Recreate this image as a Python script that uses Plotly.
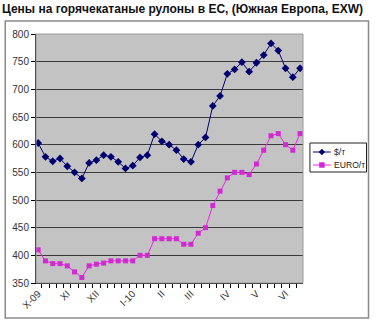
import plotly.graph_objects as go

# ---- data ----
weeks = list(range(1, 38))
usd_t = [603, 578, 570, 575, 561, 550, 539, 567, 572, 581,
         578, 569, 557, 562, 577, 581, 619, 606, 600, 590,
         574, 569, 600, 613, 670, 688, 728, 736, 749, 732,
         748, 762, 783, 770, 738, 722, 738]
eur_t = [410, 390, 385, 385, 381, 370, 360, 381, 384, 386,
         390, 390, 390, 390, 400, 400, 430, 430, 430, 430,
         420, 420, 440, 450, 490, 516, 540, 550, 550, 546,
         565, 590, 616, 620, 600, 590, 620]
month_pos = [1, 5, 9, 14, 18, 22, 27, 31, 35]
month_labels = ["X-09", "XI", "XII", "I-10", "II", "III", "IV", "V", "VI"]
series_names = ["$/т", "EURO/т"]
title_text = "Цены на горячекатаные рулоны в ЕС, (Южная Европа, EXW)"

W, H = 378, 324
L, R, T, B = 34, 303, 34, 283  # plot area in pixels


def px(xp):
    return (xp - L) / (R - L)


def py(yp):
    return (B - yp) / (B - T)


USD_COLOR = "#000070"
EUR_COLOR = "#ee22ee"

fig = go.Figure()
fig.add_trace(go.Scatter(x=weeks, y=usd_t, mode="lines+markers", name=series_names[0],
                         line=dict(color=USD_COLOR, width=1),
                         marker=dict(symbol="diamond", size=6, color=USD_COLOR),
                         showlegend=False))
fig.add_trace(go.Scatter(x=weeks, y=eur_t, mode="lines+markers", name=series_names[1],
                         line=dict(color=EUR_COLOR, width=1),
                         marker=dict(symbol="square", size=5, color="#d22ad2"),
                         showlegend=False))

shapes = []
# outer chart frame
shapes.append(dict(type="rect", xref="paper", yref="paper",
                   x0=px(3), x1=px(369), y0=py(318), y1=py(21),
                   line=dict(color="#8a8a8a", width=1.5), layer="below"))
# plot area border (top/right grey)
shapes.append(dict(type="rect", xref="paper", yref="paper",
                   x0=0, x1=1, y0=0, y1=1,
                   line=dict(color="#9a9a9a", width=1), layer="above"))
# legend box
shapes.append(dict(type="rect", xref="paper", yref="paper",
                   x0=px(310), x1=px(367), y0=py(172), y1=py(143),
                   line=dict(color="#222222", width=1), fillcolor="white"))
# legend samples
for yy, col in [(152, USD_COLOR), (165, EUR_COLOR)]:
    shapes.append(dict(type="line", xref="paper", yref="paper",
                       x0=px(313), x1=px(331), y0=py(yy), y1=py(yy),
                       line=dict(color=col, width=1)))
cx, cy, r = 322, 152, 3
shapes.append(dict(type="path", xref="paper", yref="paper",
                   path=f"M{px(cx-r)},{py(cy)} L{px(cx)},{py(cy-r)} L{px(cx+r)},{py(cy)} L{px(cx)},{py(cy+r)} Z",
                   fillcolor=USD_COLOR, line=dict(color=USD_COLOR, width=0.5)))
shapes.append(dict(type="rect", xref="paper", yref="paper",
                   x0=px(319.5), x1=px(324.5), y0=py(167.5), y1=py(162.5),
                   fillcolor="#d22ad2", line=dict(color="#d22ad2", width=0.5)))

annotations = [
    dict(xref="paper", yref="paper", x=px(332), y=py(152), text=series_names[0],
         showarrow=False, xanchor="left", yanchor="middle",
         font=dict(family="Liberation Sans, Arial", size=8.6, color="#222222")),
    dict(xref="paper", yref="paper", x=px(332), y=py(165), text=series_names[1],
         showarrow=False, xanchor="left", yanchor="middle",
         font=dict(family="Liberation Sans, Arial", size=8.6, color="#222222")),
]

fig.update_layout(
    width=W, height=H,
    margin=dict(l=L, r=W - R, t=T, b=H - B, pad=0),
    paper_bgcolor="white",
    plot_bgcolor="#c3c3c3",
    title=dict(text=title_text, x=2 / W, xanchor="left", xref="container",
               y=1 - 9 / H, yanchor="middle", yref="container",
               font=dict(family="Liberation Sans, Arial", size=12, color="#111111",
                         weight="bold")),
    shapes=shapes,
    annotations=annotations,
    showlegend=False,
)
fig.update_xaxes(range=[0.7, 37.4], tickmode="array", tickvals=month_pos,
                 ticktext=month_labels, tickangle=-45, ticks="",
                 showgrid=False, zeroline=False,
                 showline=True, linecolor="black", linewidth=1,
                 tickfont=dict(family="Liberation Sans, Arial", size=10, color="#333333"),
                 minor=dict(tick0=0.5, dtick=1, ticks="outside", ticklen=4,
                            tickcolor="black", showgrid=False))
fig.update_yaxes(range=[350, 800], dtick=50, ticks="outside", ticklen=4,
                 tickcolor="black", showline=True, linecolor="black", linewidth=1,
                 gridcolor="#3a3a3a", gridwidth=1, zeroline=False,
                 tickfont=dict(family="Liberation Sans, Arial", size=10, color="#333333"))

fig.write_html("out.html")
